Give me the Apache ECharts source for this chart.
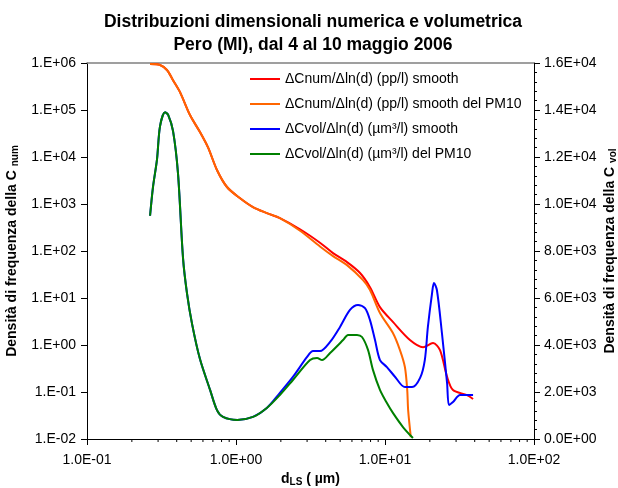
<!DOCTYPE html>
<html>
<head>
<meta charset="utf-8">
<script src="https://cdn.jsdelivr.net/npm/echarts@6/dist/echarts.min.js"></script>
<style>
html, body { margin: 0; padding: 0; background: #fff; }
#main { width: 618px; height: 488px; }
</style>
</head>
<body>
<div id="main"></div>
<script>
var myChart = echarts.init(document.getElementById('main'));

// [d (µm), valore]
var numSmooth = [
    [0.265, 9.5e5], [0.309, 9.1e5], [0.344, 7.1e5], [0.378, 4.3e5], [0.421, 2.4e5],
    [0.491, 7.8e4], [0.573, 3.4e4], [0.649, 1.6e4], [0.745, 5.3e3], [0.870, 2.3e3],
    [1.06, 1340], [1.30, 860], [1.61, 640], [1.97, 500], [2.69, 290], [3.66, 150],
    [4.48, 90], [5.56, 58], [6.80, 34], [7.93, 17], [9.25, 6.4], [11.3, 3.1],
    [14.7, 1.28], [18.0, 0.9], [21.0, 1.1], [23.4, 0.78], [26.1, 0.21], [28.6, 0.11],
    [35.5, 0.086], [39.0, 0.071]
];
var numPM10 = [
    [0.265, 9.5e5], [0.309, 9.1e5], [0.344, 7.1e5], [0.378, 4.3e5], [0.421, 2.4e5],
    [0.491, 7.8e4], [0.573, 3.4e4], [0.649, 1.6e4], [0.745, 5.3e3], [0.870, 2.3e3],
    [1.06, 1340], [1.30, 860], [1.61, 640], [1.97, 500], [2.69, 270], [3.66, 125],
    [4.48, 78], [5.56, 50], [7.12, 24], [7.93, 14.8], [9.25, 4.8], [11.3, 1.8],
    [12.6, 0.78], [13.6, 0.34], [14.1, 0.11], [14.3, 0.041], [14.9, 0.011]
];
var volSmooth = [
    [0.265, 9500], [0.277, 10700], [0.295, 11900], [0.309, 13300], [0.334, 13900],
    [0.350, 13800], [0.378, 13100], [0.408, 11300], [0.441, 7700], [0.469, 6200],
    [0.507, 4900], [0.573, 3400], [0.669, 2100], [0.745, 1230], [0.818, 940],
    [1.02, 810], [1.30, 940], [1.61, 1320], [1.97, 1960], [2.41, 2640], [3.00, 3490],
    [3.29, 3740], [3.66, 3740], [4.28, 4130], [4.99, 4770], [5.82, 5490], [6.59, 5700],
    [7.34, 5570], [7.93, 5060], [8.57, 4210], [9.25, 3360], [10.3, 3060], [11.7, 2640],
    [13.6, 2210], [15.2, 2210], [17.2, 2600], [18.5, 3360], [19.4, 4770], [20.7, 6210],
    [21.3, 6640], [22.3, 6340], [24.1, 4510], [26.1, 2380], [26.9, 1450], [28.6, 1570],
    [31.9, 1870], [39.0, 1870]
];
var volPM10 = [
    [0.265, 9500], [0.277, 10700], [0.295, 11900], [0.309, 13300], [0.334, 13900],
    [0.350, 13800], [0.378, 13100], [0.408, 11300], [0.441, 7700], [0.469, 6200],
    [0.507, 4900], [0.573, 3400], [0.669, 2100], [0.745, 1230], [0.818, 940],
    [1.02, 810], [1.30, 940], [1.61, 1320], [1.97, 1870], [2.41, 2510], [3.14, 3360],
    [3.50, 3450], [3.78, 3360], [4.28, 3660], [5.23, 4210], [5.65, 4430], [6.49, 4430],
    [7.01, 4340], [7.69, 3790], [8.30, 2940], [9.25, 2090], [10.3, 1530], [11.3, 1110],
    [13.2, 510], [15.4, 40]
];
// tacche secondarie dell'asse x logaritmico
var xMinorTicks = [0.2, 0.3, 0.4, 0.5, 0.6, 0.7, 0.8, 0.9, 2, 3, 4, 5, 6, 7, 8, 9, 20, 30, 40, 50, 60, 70, 80, 90];

var seriesNames = [
    'ΔCnum/Δln(d) (pp/l) smooth',
    'ΔCnum/Δln(d) (pp/l) smooth del PM10',
    'ΔCvol/Δln(d) (µm³/l) smooth',
    'ΔCvol/Δln(d) (µm³/l) del PM10'
];

var FONT = 'Liberation Sans, Arial, sans-serif';

function expLabel(v, digits) {
    if (v === 0) return (digits ? '0.0' : '0.') + 'E+00';
    var e = Math.floor(Math.log10(v) + 1e-9);
    var m = v / Math.pow(10, e);
    var es = (e < 0 ? '-' : '+') + (Math.abs(e) < 10 ? '0' : '') + Math.abs(e);
    return (digits ? m.toFixed(1) : Math.round(m) + '.') + 'E' + es;
}

function lineSeries(i, data, color, yIdx) {
    return {
        name: seriesNames[i],
        type: 'line',
        yAxisIndex: yIdx,
        data: data,
        smooth: 0.3,
        showSymbol: false,
        lineStyle: { color: color, width: 2 },
        itemStyle: { color: color },
        z: 3 + i
    };
}

var axisNameRich = {
    b: { fontSize: 14, fontWeight: 'bold', color: '#000', fontFamily: FONT },
    s: { fontSize: 10, fontWeight: 'bold', color: '#000', fontFamily: FONT, padding: [6, 0, 0, 0] }
};

option = {
    backgroundColor: '#fff',
    animation: false,
    textStyle: { fontFamily: FONT },
    title: {
        text: 'Distribuzioni dimensionali numerica e volumetrica\nPero (MI), dal 4 al 10 maggio 2006',
        left: 313,
        textAlign: 'center',
        top: 11,
        padding: 0,
        textStyle: { fontSize: 17.5, fontWeight: 'bold', color: '#000', lineHeight: 23, fontFamily: FONT }
    },
    legend: {
        orient: 'vertical',
        left: 245,
        top: 67,
        itemWidth: 30,
        itemHeight: 2,
        itemGap: 11,
        icon: 'rect',
        data: seriesNames,
        textStyle: { fontSize: 14, color: '#000', fontFamily: FONT }
    },
    grid: {
        left: 87,
        right: 84,
        top: 63,
        bottom: 49,
        outerBoundsMode: 'none',
        containLabel: false
    },
    xAxis: [
        {
            type: 'log',
            logBase: 10,
            min: 0.1,
            max: 100,
            interval: 1,
            name: '{b|d}{s|LS}{b| ( µm)}',
            nameLocation: 'middle',
            nameGap: 32,
            nameTextStyle: { rich: axisNameRich },
            axisLine: { lineStyle: { color: '#000', width: 1 } },
            axisTick: { length: 6, lineStyle: { color: '#000' } },
            axisLabel: {
                margin: 14,
                fontSize: 14,
                color: '#000',
                formatter: function (v) { return expLabel(v, true); }
            },
            splitLine: { show: false }
        },
        {
            type: 'log',
            logBase: 10,
            min: 0.1,
            max: 100,
            position: 'top',
            axisLine: { show: true, lineStyle: { color: '#808080', width: 1.5 } },
            axisTick: { show: false },
            axisLabel: { show: false },
            splitLine: { show: false }
        }
    ],
    yAxis: [
        {
            type: 'log',
            logBase: 10,
            min: 0.01,
            max: 1e6,
            interval: 1,
            name: '{b|Densità di frequenza della C }{s|num}',
            nameLocation: 'middle',
            nameRotate: 90,
            nameGap: 67,
            nameMoveOverlap: false,
            nameTextStyle: { rich: axisNameRich },
            axisLine: { show: true, lineStyle: { color: '#000', width: 1 } },
            axisTick: { length: 6, lineStyle: { color: '#000' } },
            axisLabel: {
                margin: 11,
                fontSize: 14,
                color: '#000',
                formatter: function (v) { return expLabel(v, false); }
            },
            splitLine: { show: false }
        },
        {
            type: 'value',
            min: 0,
            max: 16000,
            interval: 2000,
            position: 'right',
            name: '{b|Densità di frequenza della C }{s|vol}',
            nameLocation: 'middle',
            nameRotate: 90,
            nameGap: 68,
            nameMoveOverlap: false,
            nameTextStyle: { rich: axisNameRich },
            axisLine: { show: true, lineStyle: { color: '#000', width: 1 } },
            axisTick: { length: 6, lineStyle: { color: '#000' } },
            minorTick: { show: true, splitNumber: 5, length: 3, lineStyle: { color: '#000' } },
            axisLabel: {
                margin: 10,
                fontSize: 14,
                color: '#000',
                formatter: function (v) { return expLabel(v, true); }
            },
            splitLine: { show: false }
        }
    ],
    series: [
        lineSeries(0, numSmooth, '#ff0000', 0),
        lineSeries(1, numPM10, '#ff6600', 0),
        lineSeries(2, volSmooth, '#0000ff', 1),
        lineSeries(3, volPM10, '#008000', 1),
        {
            type: 'custom',
            silent: true,
            clip: false,
            yAxisIndex: 0,
            data: xMinorTicks.map(function (d) { return [d, 0.01]; }),
            renderItem: function (params, api) {
                var p = api.coord([api.value(0), api.value(1)]);
                return {
                    type: 'line',
                    shape: { x1: p[0], y1: p[1], x2: p[0], y2: p[1] + 3 },
                    style: { stroke: '#000', lineWidth: 1 }
                };
            },
            z: 1
        }
    ]
};

myChart.setOption(option);
</script>
</body>
</html>
